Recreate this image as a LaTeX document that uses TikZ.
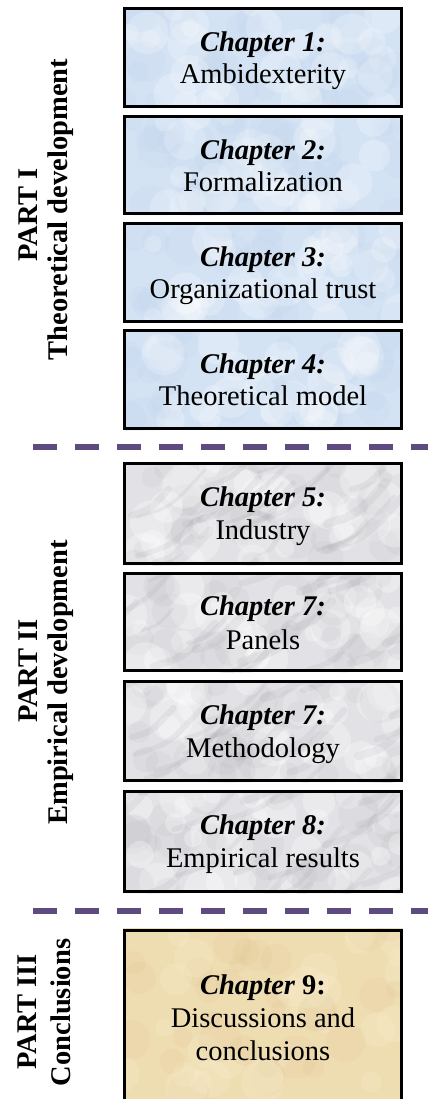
\documentclass[tikz,border=0pt]{standalone}
\usepackage{fontspec}
\setmainfont{Liberation Serif}

\definecolor{bluebase}{RGB}{212,227,244}
\definecolor{bluedark}{RGB}{186,207,234}
\definecolor{graybase}{RGB}{226,226,230}
\definecolor{graydark}{RGB}{150,150,158}
\definecolor{tanbase}{RGB}{239,221,178}
\definecolor{tandark}{RGB}{215,188,134}
\definecolor{tanlight}{RGB}{249,238,208}
\definecolor{divcol}{RGB}{94,75,128}

% mottled fill: soft dark and light spots clipped to the box area
\newcommand\mottle[6]{%
  \begin{scope}
    \clip (123,#1) rectangle (403,#2);
    \foreach \i in {1,...,30}{
      \pgfmathsetmacro\sx{123+280*rnd}
      \pgfmathsetmacro\sy{#1+(#2-#1)*rnd}
      \pgfmathsetmacro\sr{8+14*rnd}
      \fill[#3, opacity=#5] (\sx,\sy) circle[radius=\sr];
      \pgfmathsetmacro\sx{123+280*rnd}
      \pgfmathsetmacro\sy{#1+(#2-#1)*rnd}
      \pgfmathsetmacro\sr{8+14*rnd}
      \fill[#4, opacity=#6] (\sx,\sy) circle[radius=\sr];
    }
  \end{scope}}

% marble veins running up to the right
\newcommand\veins[2]{%
  \begin{scope}
    \clip (123,#1) rectangle (403,#2);
    \foreach \i in {1,...,22}{
      \pgfmathsetmacro\sx{103+300*rnd}
      \pgfmathsetmacro\sy{#1+(#2-#1+20)*rnd}
      \pgfmathsetmacro\sl{30+50*rnd}
      \pgfmathsetmacro\sw{1.5+3*rnd}
      \pgfmathsetmacro\ex{\sx+\sl}
      \pgfmathsetmacro\ey{\sy-0.7*\sl}
      \pgfmathsetmacro\cx{\sx+0.5*\sl}
      \pgfmathsetmacro\cy{\sy-0.15*\sl}
      \draw[graydark, opacity=0.12, line width=\sw pt, line cap=round]
        (\sx,\sy) .. controls (\cx,\cy) .. (\ex,\ey);
    }
  \end{scope}}

\begin{document}
\begin{tikzpicture}[x=0.5pt,y=-0.5pt,
  chapbox/.style={draw=black, line width=1.5pt, minimum width=138.5pt,
    inner sep=0pt, outer sep=0pt},
  chaptitle/.style={anchor=base, font=\fontsize{14.25pt}{16pt}\selectfont\bfseries},
  chapname/.style={anchor=base, font=\fontsize{14.25pt}{16pt}\selectfont},
  partlabel/.style={anchor=base, rotate=90,
    font=\fontsize{14.25pt}{16pt}\selectfont\bfseries},
  divider/.style={line width=3.2pt, color=divcol, dash pattern=on 12pt off 9pt}]

\useasboundingbox (0,0) rectangle (428,1099);
\pgfmathsetseed{4711}

% Part I: theoretical chapters
\fill[bluebase] (123,7) rectangle (403,108);
\mottle{7}{108}{bluedark}{white}{0.12}{0.22}
\node[chapbox, minimum height=49pt] (c1) at (263,57.5) {};
\fill[bluebase] (123,115) rectangle (403,215);
\mottle{115}{215}{bluedark}{white}{0.12}{0.22}
\node[chapbox, minimum height=48.5pt] (c2) at (263,165) {};
\fill[bluebase] (123,222) rectangle (403,323);
\mottle{222}{323}{bluedark}{white}{0.12}{0.22}
\node[chapbox, minimum height=49pt] (c3) at (263,272.5) {};
\fill[bluebase] (123,329) rectangle (403,430);
\mottle{329}{430}{bluedark}{white}{0.12}{0.22}
\node[chapbox, minimum height=49pt] (c4) at (263,379.5) {};

\node[chaptitle] (t1) at (263,51) {\itshape Chapter 1:};
\node[chapname]  (n1) at (263,83) {Ambidexterity};
\node[chaptitle] (t2) at (263,159) {\itshape Chapter 2:};
\node[chapname]  (n2) at (263,191) {Formalization};
\node[chaptitle] (t3) at (263,266) {\itshape Chapter 3:};
\node[chapname]  (n3) at (263,298) {Organizational trust};
\node[chaptitle] (t4) at (263,373) {\itshape Chapter 4:};
\node[chapname]  (n4) at (263,405) {Theoretical model};

% Part II: empirical chapters
\fill[graybase] (123,462) rectangle (403,565);
\mottle{462}{565}{graydark}{white}{0.08}{0.3}
\veins{462}{565}
\node[chapbox, minimum height=50pt] (c5) at (263,513.5) {};
\fill[graybase] (123,572) rectangle (403,672);
\mottle{572}{672}{graydark}{white}{0.08}{0.3}
\veins{572}{672}
\node[chapbox, minimum height=48.5pt] (c6) at (263,622) {};
\fill[graybase] (123,680) rectangle (403,782);
\mottle{680}{782}{graydark}{white}{0.08}{0.3}
\veins{680}{782}
\node[chapbox, minimum height=49.5pt] (c7) at (263,731) {};
\fill[graybase] (123,790) rectangle (403,893);
\mottle{790}{893}{graydark}{white}{0.08}{0.3}
\veins{790}{893}
\node[chapbox, minimum height=50pt] (c8) at (263,841.5) {};

\node[chaptitle] (t5) at (263,506) {\itshape Chapter 5:};
\node[chapname]  (n5) at (263,539) {Industry};
\node[chaptitle] (t6) at (263,615) {\itshape Chapter 7:};
\node[chapname]  (n6) at (263,649) {Panels};
\node[chaptitle] (t7) at (263,724) {\itshape Chapter 7:};
\node[chapname]  (n7) at (263,757) {Methodology};
\node[chaptitle] (t8) at (263,834) {\itshape Chapter 8:};
\node[chapname]  (n8) at (263,867) {Empirical results};

% Part III: conclusions, box runs off the bottom edge
\fill[tanbase] (123,928) rectangle (403,1099);
\mottle{928}{1099}{tandark}{tanlight}{0.12}{0.25}
\node[inner sep=0pt, outer sep=0pt, minimum width=138.5pt, minimum height=84.25pt]
  (c9) at (263,1014.25) {};
\draw[line width=1.5pt] (c9.south west) -- (c9.north west) -- (c9.north east) -- (c9.south east);

\node[chaptitle] (t9) at (263,994) {{\itshape Chapter} 9:};
\node[chapname]  (n9a) at (263,1027) {Discussions and};
\node[chapname]  (n9b) at (263,1060) {conclusions};

% part labels
\node[partlabel] (p1a) at (37,215) {PART I};
\node[partlabel] (p1b) at (68,209.5) {Theoretical development};
\node[partlabel] (p2a) at (37,671) {PART II};
\node[partlabel] (p2b) at (68,682.5) {Empirical development};
\node[partlabel] (p3a) at (36,1012) {PART III};
\node[partlabel] (p3b) at (70,1012.5) {Conclusions};

% dividers between the parts
\coordinate (d1s) at (33,447);
\coordinate (d1e) at (428,447);
\draw[divider] (d1s) -- (d1e);
\coordinate (d2s) at (33,911);
\coordinate (d2e) at (428,911);
\draw[divider] (d2s) -- (d2e);
\end{tikzpicture}
\end{document}
